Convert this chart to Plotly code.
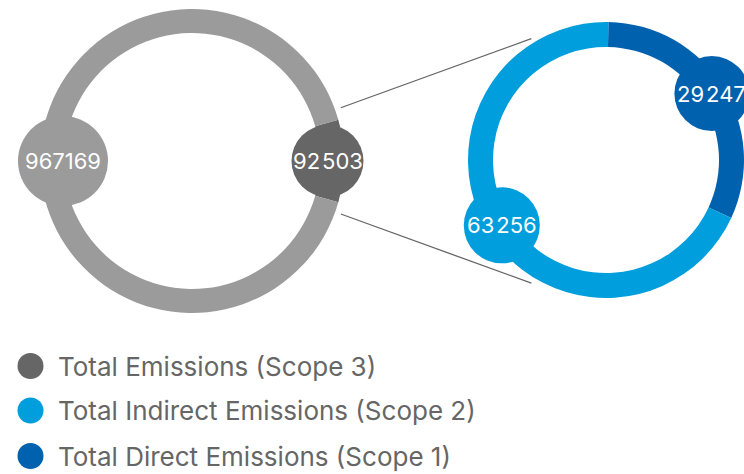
import math
import plotly.graph_objects as go

# ---- data ----
left_labels = ["Scope 1 + 2", "Total Emissions"]
left_values = [92503, 967169]
left_text = ["92\u200a503", "967169"]
left_colors = ["#666666", "#9b9b9b"]

right_labels = ["Total Direct Emissions (Scope 1)", "Total Indirect Emissions (Scope 2)"]
right_values = [29247, 63256]
right_text = ["29\u200a247", "63\u200a256"]
right_colors = ["#0061ae", "#009edc"]

legend_labels = ["Total Emissions (Scope 3)",
                 "Total Indirect Emissions (Scope 2)",
                 "Total Direct Emissions (Scope 1)"]
legend_colors = ["#666666", "#009edc", "#0061ae"]

W, H = 744, 474
FONT = "Inter"

# ---- layout geometry (pixels) ----
L_CX, L_CY, L_R, L_RIN = 192, 161, 152, 128
R_X0, R_CY, R_R, R_RIN = 468, 160, 138, 113
R_CX = R_X0 + R_R

def px_dom_x(a, b):
    return [max(0, a / W), min(1, b / W)]

def px_dom_y(top, bottom):
    return [max(0, 1 - bottom / H), min(1, 1 - top / H)]

def polar(cx, cy, r, ang):
    a = math.radians(ang)
    return cx + r * math.sin(a), cy - r * math.cos(a)

def mid_angles(values, rotation):
    tot = sum(values)
    out, acc = [], rotation
    for v in values:
        span = 360 * v / tot
        out.append(acc + span / 2)
        acc += span
    return out

left_rot = 90 - 180 * left_values[0] / sum(left_values)
right_rot = 1

fig = go.Figure()

# connector lines (drawn in cartesian layer, below rings)
conn = [((70.3, 158), (328.4, 142.5)), ((109.6, 158), (211.2, 144))]
for (la, lr), (ra, rr) in conn:
    x0, y0 = polar(L_CX, L_CY, lr, la)
    x1, y1 = polar(R_CX, R_CY, rr, ra)
    fig.add_trace(go.Scatter(x=[x0, x1], y=[y0, y1], mode="lines",
                             line=dict(color="#666666", width=1.3),
                             hoverinfo="skip", showlegend=False))

# label circles
left_mid = mid_angles(left_values, left_rot)
left_lr = [135.5, 129]
left_sizes = [72, 90]
right_mid = mid_angles(right_values, right_rot)
right_lr = [125, 123]
right_sizes = [75, 76]

annots = []
for vals, mids, lrs, sizes, cols, txts, cx, cy in [
        (left_values, left_mid, left_lr, left_sizes, left_colors, left_text, L_CX, L_CY),
        (right_values, right_mid, right_lr, right_sizes, right_colors, right_text, R_CX, R_CY)]:
    xs, ys = [], []
    for m, r in zip(mids, lrs):
        x, y = polar(cx, cy, r, m)
        xs.append(x)
        ys.append(y)
    fig.add_trace(go.Scatter(x=xs, y=ys, mode="markers",
                             marker=dict(size=sizes, color=cols, opacity=1, line=dict(width=0)),
                             hoverinfo="skip", showlegend=False))
    for x, y, t in zip(xs, ys, txts):
        annots.append(dict(x=x, y=y, xref="x", yref="y", text=t, showarrow=False,
                           font=dict(family=FONT, size=22, color="white"),
                           xanchor="center", yanchor="middle"))

# rings
fig.add_trace(go.Pie(labels=left_labels, values=left_values, hole=L_RIN / L_R,
                     sort=False, direction="clockwise", rotation=left_rot,
                     marker=dict(colors=left_colors, line=dict(width=0)),
                     textinfo="none", hoverinfo="skip", showlegend=False,
                     domain=dict(x=px_dom_x(L_CX - L_R, L_CX + L_R),
                                 y=px_dom_y(L_CY - L_R, L_CY + L_R))))
fig.add_trace(go.Pie(labels=right_labels, values=right_values, hole=R_RIN / R_R,
                     sort=False, direction="clockwise", rotation=right_rot,
                     marker=dict(colors=right_colors, line=dict(width=0)),
                     textinfo="none", hoverinfo="skip", showlegend=False,
                     domain=dict(x=px_dom_x(R_X0, W),
                                 y=px_dom_y(R_CY - R_R, R_CY + R_R))))

# legend
leg_y = [366, 410.5, 456]
fig.add_trace(go.Scatter(x=[30.5] * 3, y=leg_y, mode="markers",
                         marker=dict(size=26, color=legend_colors, opacity=1, line=dict(width=0)),
                         hoverinfo="skip", showlegend=False))
for y, t in zip(leg_y, legend_labels):
    annots.append(dict(x=56, y=y, xref="x", yref="y", text=t, showarrow=False,
                       font=dict(family=FONT, size=26, color="#666666"),
                       xanchor="left", yanchor="middle"))

fig.update_layout(
    width=W, height=H, margin=dict(l=0, r=0, t=0, b=0),
    paper_bgcolor="white", plot_bgcolor="white",
    xaxis=dict(range=[0, W], visible=False, fixedrange=True),
    yaxis=dict(range=[H, 0], visible=False, fixedrange=True),
    annotations=annots, showlegend=False,
)
fig.write_html("out.html", config=dict(displayModeBar=False))
